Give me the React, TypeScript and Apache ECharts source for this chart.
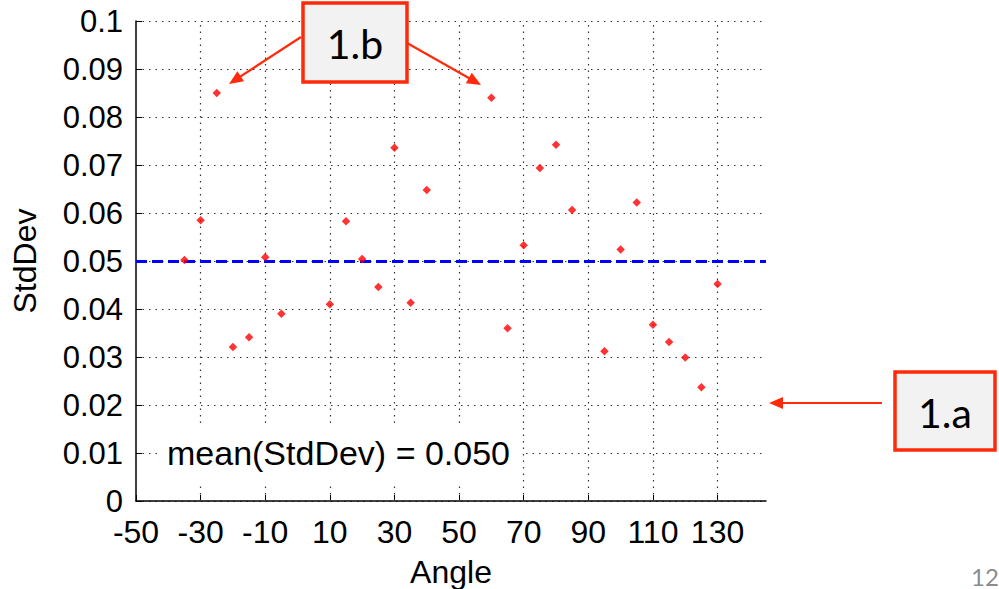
import React, { useEffect, useRef } from 'react';
import * as echarts from 'echarts';

const angles = [-35, -30, -25, -20, -15, -10, -5, 10, 15, 20, 25, 30, 35, 40, 60, 65, 70, 75, 80, 85, 95, 100, 105, 110, 115, 120, 125, 130];
const stdDevs = [0.0502, 0.0585, 0.0850, 0.0321, 0.0341, 0.0508, 0.0390, 0.0410, 0.0583, 0.0504, 0.0446, 0.0736, 0.0413, 0.0648, 0.0840, 0.0360, 0.0533, 0.0694, 0.0742, 0.0606, 0.0312, 0.0524, 0.0622, 0.0367, 0.0331, 0.0299, 0.0237, 0.0452];
const xTicks = [-50, -30, -10, 10, 30, 50, 70, 90, 110, 130];
const yTicks = [0, 0.01, 0.02, 0.03, 0.04, 0.05, 0.06, 0.07, 0.08, 0.09, 0.1];
const xName = 'Angle';
const yName = 'StdDev';
const meanLabel = 'mean(StdDev) = 0.050';
const calloutA = '1.a';
const calloutB = '1.b';
const pageNumber = '12';

const FONT = "'Liberation Sans', Arial, sans-serif";
const RED = '#ff2a0a';

function arrow(x1: number, y1: number, x2: number, y2: number) {
  const dx = x2 - x1, dy = y2 - y1;
  const len = Math.hypot(dx, dy);
  const ux = dx / len, uy = dy / len;
  const L = 14, W = 12;
  const bx = x2 - ux * L, by = y2 - uy * L;
  const nx = -uy, ny = ux;
  return [
    { type: 'line', z: 100, shape: { x1, y1, x2: bx + ux * 2, y2: by + uy * 2 }, style: { stroke: RED, lineWidth: 2.2 } },
    { type: 'polygon', z: 100, shape: { points: [[x2, y2], [bx + nx * W / 2, by + ny * W / 2], [bx - nx * W / 2, by - ny * W / 2]] }, style: { fill: RED } },
  ];
}

function callout(x: number, y: number, w: number, h: number, text: string) {
  return [
    { type: 'rect', z: 100, shape: { x, y, width: w, height: h }, style: { fill: '#f2f2f2', stroke: RED, lineWidth: 3.5 } },
    { type: 'text', z: 101, x: x + w / 2, y: y + h / 2 + 1, style: { text, font: "41px Lato, 'Open Sans', sans-serif", fill: '#000', align: 'center', verticalAlign: 'middle' } },
  ];
}

export default function App() {
  const ref = useRef<HTMLDivElement>(null);
  useEffect(() => {
    if (!ref.current) return;
    const chart = echarts.init(ref.current, null, { renderer: 'svg' });
    const mean = stdDevs.reduce((a, b) => a + b, 0) / stdDevs.length;
    const gridColor = '#333';
    const option: any = {
      animation: false,
      textStyle: { fontFamily: FONT },
      grid: { left: 136, right: 233, top: 21, bottom: 88, containLabel: false, outerBoundsMode: 'none' },
      xAxis: {
        type: 'value', min: -50, max: 145, interval: 20,
        name: xName, nameLocation: 'middle', nameGap: 58,
        nameTextStyle: { fontSize: 32, lineHeight: 26, color: '#000', fontFamily: FONT },
        axisLine: { show: true, onZero: false, lineStyle: { color: '#000', width: 1.5 } },
        axisTick: { show: true, inside: true, length: 6, customValues: xTicks, lineStyle: { color: '#000' } },
        axisLabel: { fontSize: 32, lineHeight: 26, color: '#000', margin: 18, fontFamily: FONT, customValues: xTicks, formatter: (v: number) => (xTicks.includes(v) ? String(v) : '') },
        splitLine: { show: false },
      },
      yAxis: {
        type: 'value', min: 0, max: 0.1, interval: 0.01,
        name: yName, nameLocation: 'middle', nameGap: 95,
        nameTextStyle: { fontSize: 32, color: '#000', fontFamily: FONT },
        axisLine: { show: true, onZero: false, lineStyle: { color: '#000', width: 1.5 } },
        axisTick: { show: true, inside: true, length: 6, lineStyle: { color: '#000' } },
        axisLabel: { fontSize: 31, lineHeight: 26, color: '#000', margin: 13, fontFamily: FONT, formatter: (v: number) => { const t = yTicks.find((k) => Math.abs(k - v) < 1e-9); return t === undefined ? '' : String(t); } },
        splitLine: { show: true, lineStyle: { color: gridColor, type: [1.5, 5], width: 1.2 } },
      },
      series: [
        {
          type: 'line', data: [], z: 1, silent: true,
          markLine: {
            silent: true, symbol: 'none', label: { show: false }, animation: false,
            data: [
              ...xTicks.filter((v) => v !== -50).map((v) => ({ xAxis: v, lineStyle: { color: gridColor, type: [1.5, 5], width: 1.2 } })),
              { yAxis: mean, lineStyle: { color: '#0000ff', type: [11, 5], width: 2.8 } },
            ],
          },
        },
        {
          type: 'scatter', z: 5, symbol: 'diamond', symbolSize: 8.5,
          itemStyle: { color: '#ff0000' },
          data: angles.map((a, i) => [a, stdDevs[i]]),
        },
      ],
      graphic: [
        { type: 'text', z: 50, left: 160, top: 426, style: { text: meanLabel, font: `34px ${FONT}`, fill: '#000', backgroundColor: '#fff', padding: [10, 11, 12, 7] } },
        ...callout(303, 3, 104, 79, calloutB),
        ...arrow(301, 37, 229, 84),
        ...arrow(407, 43, 481, 85),
        ...callout(895, 372, 100, 78, calloutA),
        ...arrow(882, 403, 769, 403),
        { type: 'text', z: 100, x: 971, y: 564, style: { text: pageNumber, font: "24px Lato, sans-serif", lineHeight: 24, fill: '#8c8c8c' } },
      ],
    };
    chart.setOption(option);
    return () => chart.dispose();
  }, []);
  return <div ref={ref} style={{ position: 'fixed', left: 0, top: 0, width: 999, height: 589, background: '#fff' }} />;
}
